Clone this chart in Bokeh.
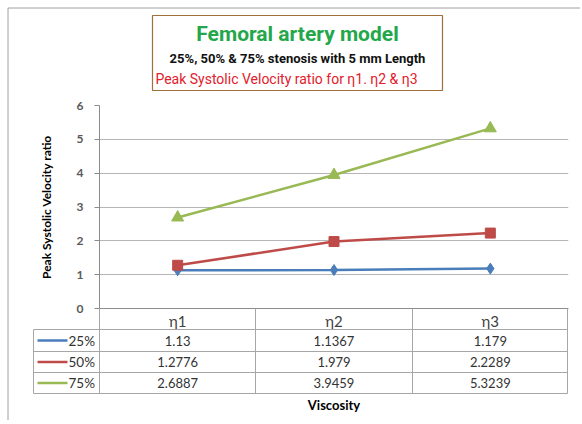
from bokeh.plotting import figure
from bokeh.models import FixedTicker, Range1d
from bokeh.core.properties import value
from bokeh.embed import file_html
from bokeh.resources import INLINE

# ---------------- data ----------------
categories = ["η1", "η2", "η3"]
series_names = ["25%", "50%", "75%"]
s25 = [1.13, 1.1367, 1.179]
s50 = [1.2776, 1.979, 2.2289]
s75 = [2.6887, 3.9459, 5.3239]
y_ticks = [0, 1, 2, 3, 4, 5, 6]
title1 = "Femoral artery model"
title2 = "25%, 50% & 75% stenosis with 5 mm Length"
title3 = "Peak Systolic Velocity ratio for η1. η2 & η3"
y_label = "Peak Systolic Velocity ratio"
x_label = "Viscosity"

colors = ["#4A7EBB", "#BE4B48", "#98B954"]
markers = ["diamond", "square", "triangle"]
msizes = [11, 10, 12]
series = [s25, s50, s75]

FONT = "Lato"
TFONT = "Roboto"

# ---------------- layout helpers (page px -> data units) ----------------
FL, FR, FT, FB = 99, 568, 105, 308   # frame edges on the page
PXX = (FR - FL) / 3.0
PXY = (FB - FT) / 6.0


def dx(px):
    return (px - FL) / PXX


def dy(py):
    return (FB - py) / PXY


W, H = 580, 420
p = figure(width=W, height=H, x_range=Range1d(0, 3), y_range=Range1d(0, 6),
           output_backend="svg", toolbar_location=None,
           min_border_left=FL, min_border_right=W - FR,
           min_border_top=FT, min_border_bottom=H - FB)
p.outline_line_color = None
p.background_fill_color = "white"
p.border_fill_color = "white"
p.xgrid.visible = False
p.ygrid.grid_line_color = "#b5b5b5"
p.ygrid.grid_line_width = 1

# y axis
p.yaxis.ticker = FixedTicker(ticks=y_ticks)
p.yaxis.axis_line_color = "#8c8c8c"
p.yaxis.major_tick_line_color = "#8c8c8c"
p.yaxis.major_tick_in = 0
p.yaxis.major_tick_out = 5
p.yaxis.minor_tick_line_color = None
p.yaxis.major_label_text_font = FONT
p.yaxis.major_label_text_font_size = "12px"
p.yaxis.major_label_text_font_style = "bold"
p.yaxis.major_label_text_color = "#595959"
p.yaxis.major_label_standoff = 11
p.yaxis.axis_label = y_label
p.yaxis.axis_label_text_font = FONT
p.yaxis.axis_label_text_font_size = "12px"
p.yaxis.axis_label_text_font_style = "bold"
p.yaxis.axis_label_text_color = "#000000"
p.yaxis.axis_label_standoff = 20

# x axis (category labels form the table header)
xs = [i + 0.5 for i in range(len(categories))]
p.xaxis.ticker = FixedTicker(ticks=xs)
p.xaxis.major_label_overrides = {x: c for x, c in zip(xs, categories)}
p.xaxis.axis_line_color = "#8c8c8c"
p.xaxis.major_tick_line_color = None
p.xaxis.minor_tick_line_color = None
p.xaxis.major_label_text_font = FONT
p.xaxis.major_label_text_font_size = "15px"
p.xaxis.major_label_text_color = "#404040"
p.xaxis.major_label_standoff = -3
p.xaxis.axis_label = x_label
p.xaxis.axis_label_text_font = FONT
p.xaxis.axis_label_text_font_size = "13px"
p.xaxis.axis_label_text_font_style = "bold"
p.xaxis.axis_label_text_color = "#000000"
p.xaxis.axis_label_standoff = 64

# series
for vals, col, mk, ms in zip(series, colors, markers, msizes):
    p.line(xs, vals, line_color=col, line_width=2.5)
    p.scatter(xs, vals, marker=mk, size=ms, fill_color=col, line_color=col)

# ---------------- data table under the chart ----------------
GRID = "#a6a6a6"
row_lines = [329, 351, 372, 393]
p.segment(x0=[dx(33)] * 4, x1=[dx(567)] * 4,
          y0=[dy(v) for v in row_lines], y1=[dy(v) for v in row_lines],
          line_color=GRID, line_width=1, level="annotation")
vx = [99, 255, 412, 567]
p.segment(x0=[dx(v) for v in vx], x1=[dx(v) for v in vx],
          y0=[dy(308)] * 4, y1=[dy(393)] * 4,
          line_color=GRID, line_width=1, level="annotation")
p.segment(x0=[dx(33)], x1=[dx(33)], y0=[dy(329)], y1=[dy(393)],
          line_color=GRID, line_width=1, level="annotation")

row_c = [(row_lines[i] + row_lines[i + 1]) / 2.0 for i in range(3)]
tx, ty, tt = [], [], []
for r, vals in enumerate(series):
    for c, v in enumerate(vals):
        tx.append(xs[c])
        ty.append(dy(row_c[r]))
        tt.append(str(v))
p.text(x=tx, y=ty, text=tt, text_align="center", text_baseline="middle",
       text_font=value(FONT), text_font_size="13px", text_color="#333333",
       level="annotation")

for r, (name, col, mk, ms) in enumerate(zip(series_names, colors, markers, msizes)):
    yy = dy(row_c[r])
    p.segment(x0=[dx(37)], x1=[dx(67)], y0=[yy], y1=[yy], line_color=col,
              line_width=2.5, level="annotation")
    p.scatter([dx(52)], [yy], marker=mk, size=ms - 1, fill_color=col,
              line_color=col, level="annotation")
    p.text(x=[dx(68)], y=[yy], text=[name], text_align="left",
           text_baseline="middle", text_font=value(FONT),
           text_font_size="13.5px", text_color="#333333", level="annotation")

# ---------------- title box ----------------
p.quad(left=[dx(152)], right=[dx(442)], top=[dy(15)], bottom=[dy(90)],
       fill_color="white", line_color="#a0703c", line_width=1.2,
       level="annotation")
cx = dx(297)
p.text(x=[cx], y=[dy(33)], text=[title1], text_align="center",
       text_baseline="middle", text_font=value(TFONT), text_font_size="21px",
       text_font_style="bold", text_color="#23a74a", level="annotation")
p.text(x=[cx], y=[dy(58)], text=[title2], text_align="center",
       text_baseline="middle", text_font=value(TFONT), text_font_size="13px",
       text_font_style="bold", text_color="#111111", level="annotation")
p.text(x=[dx(286)], y=[dy(78)], text=[title3], text_align="center",
       text_baseline="middle", text_font=value(TFONT), text_font_size="14px",
       text_color="#e3202b", level="annotation")

# ---------------- outer chart border ----------------
p.segment(x0=[dx(7.5), dx(7.5)], x1=[dx(7.5), dx(580)],
          y0=[dy(7.5), dy(7.5)], y1=[dy(424), dy(7.5)],
          line_color="#a0a0a0", line_width=1, level="annotation")

open("out.html", "w").write(file_html(p, INLINE))
